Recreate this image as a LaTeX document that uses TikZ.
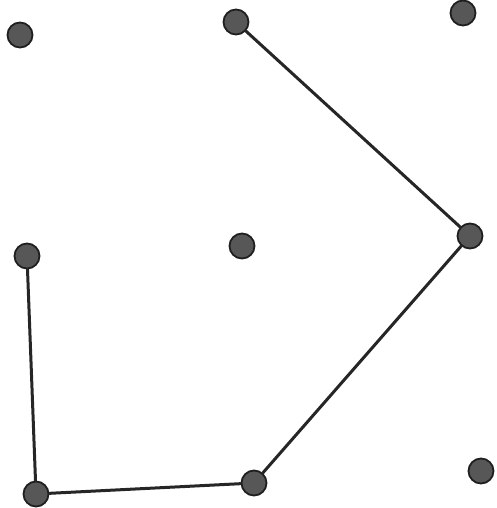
\documentclass[tikz,border=0pt]{standalone}
\usepackage{tikz}
\usetikzlibrary{positioning}

\begin{document}
\begin{tikzpicture}[
    x=1pt, y=-1pt,
    dot/.style={circle, minimum size=25pt, inner sep=0pt, draw=black!88, line width=1.8pt, fill=black!66},
    edge/.style={draw=black!85, line width=3pt, line cap=round}
]
    \useasboundingbox[fill=white] (0,0) rectangle (496,508);

    % points
    \node[dot] (p1) at (20,35) {};
    \node[dot] (p2) at (236,22) {};
    \node[dot] (p3) at (463,13) {};
    \node[dot] (p4) at (470,236) {};
    \node[dot] (p5) at (242,246) {};
    \node[dot] (p6) at (27,256) {};
    \node[dot] (p7) at (36,494) {};
    \node[dot] (p8) at (254,483) {};
    \node[dot] (p9) at (481,471) {};

    % path
    \draw[edge] (p2) -- (p4);
    \draw[edge] (p4) -- (p8);
    \draw[edge] (p8) -- (p7);
    \draw[edge] (p7) -- (p6);
\end{tikzpicture}
\end{document}
